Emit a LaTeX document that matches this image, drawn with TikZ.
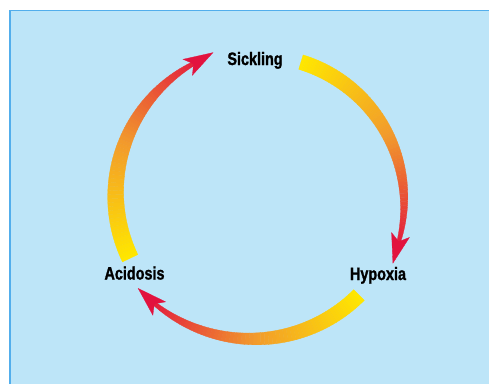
\documentclass[tikz,border=0pt]{standalone}
\usepackage{fontspec}
\newfontfamily\lblfont{Liberation Sans}[FakeStretch=0.8, FakeBold=1.2]
\usetikzlibrary{arrows.meta}

\definecolor{bgblue}{HTML}{BDE5F8}
\definecolor{edgeblue}{HTML}{52AEEC}
\definecolor{arryellow}{HTML}{FFE600}
\definecolor{arrorange}{HTML}{F29A2C}
\definecolor{arrred}{HTML}{E2123E}

\tikzset{
  label text/.style={font=\lblfont\bfseries\fontsize{18}{20}\selectfont, anchor=base, inner sep=0pt},
  head tip/.style={draw=arrred, fill=arrred, line width=0.3pt, -{Stealth[length=30pt,width=19pt,inset=7pt]}},
}

% tapered body: #1 tail angle, #2 end angle, #3 tail radius, #4 end radius, #5 tail width, #6 end width
\newcommand{\cyclebody}[6]{%
  \foreach \i in {0,...,59}{%
    \pgfmathsetmacro\ta{\i/60}
    \pgfmathsetmacro\tb{(\i+1)/60}
    \pgfmathsetmacro\aa{#1+(#2-#1)*\ta}
    \pgfmathsetmacro\ab{#1+(#2-#1)*\tb}
    \pgfmathsetmacro\wa{0.5*(#6+(#5-#6)*(1-\ta*\ta))}
    \pgfmathsetmacro\wb{0.5*(#6+(#5-#6)*(1-\tb*\tb))}
    \pgfmathsetmacro\ria{#3+(#4-#3)*\ta*\ta-\wa}
    \pgfmathsetmacro\roa{#3+(#4-#3)*\ta*\ta+\wa}
    \pgfmathsetmacro\rib{#3+(#4-#3)*\tb*\tb-\wb}
    \pgfmathsetmacro\rob{#3+(#4-#3)*\tb*\tb+\wb}
    \pgfmathtruncatemacro\pc{\ta<0.5 ? 200*\ta : 200*(\ta-0.5)}
    \ifdim\ta pt<0.5pt\colorlet{segcol}{arrorange!\pc!arryellow}\else\colorlet{segcol}{arrred!\pc!arrorange}\fi
    \fill[segcol, draw=segcol, line width=0.3pt]
      ([shift={(\aa:\ria)}]c) -- ([shift={(\aa:\roa)}]c)
      -- ([shift={(\ab:\rob)}]c) -- ([shift={(\ab:\rib)}]c) -- cycle;
  }%
}

\begin{document}
\begin{tikzpicture}[x=1pt, y=1pt]
    % Background
    \useasboundingbox (0,0) rectangle (489,384);
    \fill[white] (0,0) rectangle (489,384);
    \fill[bgblue] (9,0) rectangle (489,374);
    \draw[edgeblue, line width=1.5pt] (9.75,0) |- (489,373.25);

    \coordinate (c) at (260,188);

    % Labels
    \node[label text] (sickling) at (255,319) {Sickling};
    \node[label text] (hypoxia) at (378,104) {Hypoxia};
    \node[label text] (acidosis) at (134.5,104.5) {Acidosis};

    % Sickling to Hypoxia
    \cyclebody{73}{-21}{140}{146.5}{15}{3}
    \draw[head tip] ([shift={(-18:146)}]c) -- ([shift={(-27:149)}]c);

    % Hypoxia to Acidosis
    \cyclebody{-45}{-137.5}{140}{151.5}{15}{3}
    \draw[head tip] ([shift={(-134.5:151)}]c) -- ([shift={(-143:153)}]c);

    % Acidosis to Sickling
    \cyclebody{205.6}{113}{144}{148.5}{17}{3}
    \draw[head tip] ([shift={(116:148)}]c) -- ([shift={(108:151)}]c);
\end{tikzpicture}
\end{document}
